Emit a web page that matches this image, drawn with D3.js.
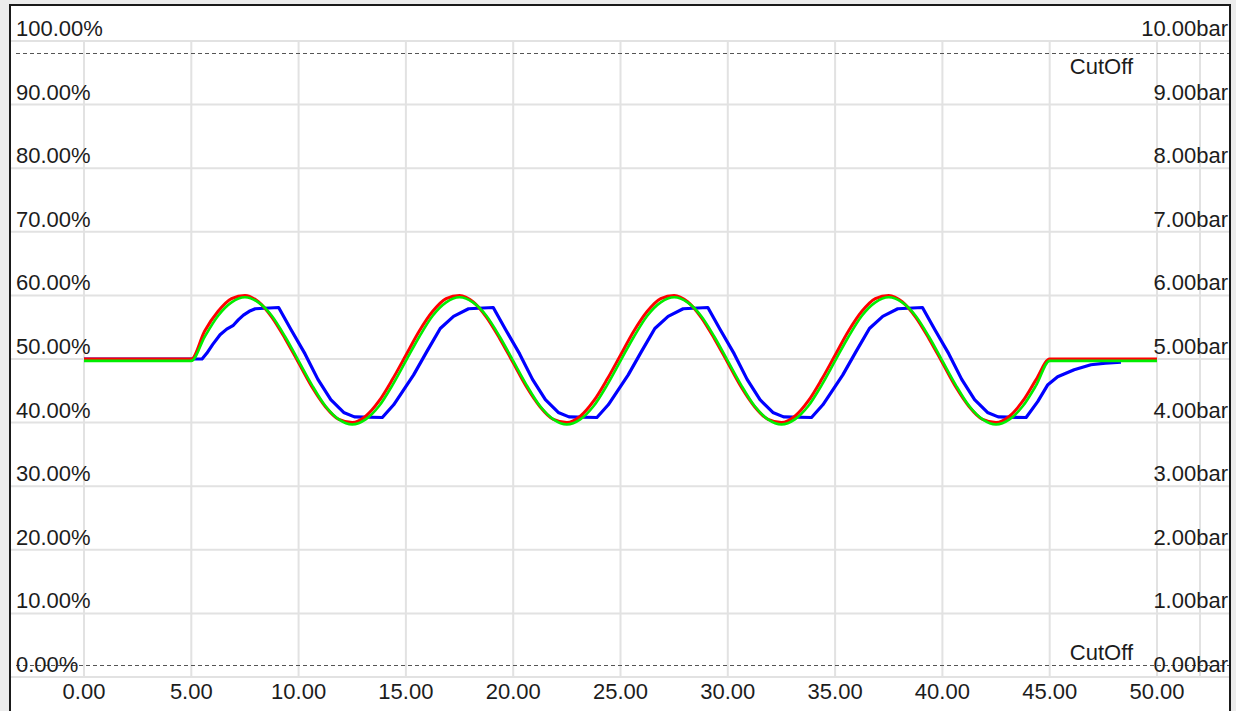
<!DOCTYPE html>
<html>
<head>
<meta charset="utf-8">
<script src="https://cdn.jsdelivr.net/npm/d3@7"></script>
<style>
  html, body { margin: 0; padding: 0; background: #ececec; }
  svg { display: block; }
  text { font-family: "Liberation Sans", Arial, sans-serif; font-size: 22px; fill: #1c1c1c; }
</style>
</head>
<body>
<svg id="chart" width="1236" height="711"></svg>
<script>
// ---- Data ----
const xTicks = [0, 5, 10, 15, 20, 25, 30, 35, 40, 45, 50];
const xTickLabels = ["0.00", "5.00", "10.00", "15.00", "20.00", "25.00", "30.00", "35.00", "40.00", "45.00", "50.00"];
const yTicks = [0, 10, 20, 30, 40, 50, 60, 70, 80, 90, 100];
const yLeftLabels = ["0.00%", "10.00%", "20.00%", "30.00%", "40.00%", "50.00%", "60.00%", "70.00%", "80.00%", "90.00%", "100.00%"];
const yRightLabels = ["0.00bar", "1.00bar", "2.00bar", "3.00bar", "4.00bar", "5.00bar", "6.00bar", "7.00bar", "8.00bar", "9.00bar", "10.00bar"];
const cutOffHigh = 98.1;
const cutOffLow = 1.9;
const cutOffLabel = "CutOff";

// time grid for the red / green series
const time = [0, 5, 5.625, 6.25, 6.875, 7.5, 8.125, 8.75, 9.375, 10, 10.625, 11.25, 11.875, 12.5, 13.125, 13.75, 14.375,
  15, 15.625, 16.25, 16.875, 17.5, 18.125, 18.75, 19.375, 20, 20.625, 21.25, 21.875, 22.5, 23.125, 23.75, 24.375,
  25, 25.625, 26.25, 26.875, 27.5, 28.125, 28.75, 29.375, 30, 30.625, 31.25, 31.875, 32.5, 33.125, 33.75, 34.375,
  35, 35.625, 36.25, 36.875, 37.5, 38.125, 38.75, 39.375, 40, 40.625, 41.25, 41.875, 42.5, 43.125, 43.75, 44.375,
  45, 50];

const redValues = [50.0, 50.0,
  54.4, 57.5, 59.5, 60.0, 59.0, 56.6, 53.2, 49.4, 45.6, 42.5, 40.5, 40.0, 41.0, 43.4, 46.8, 50.6,
  54.4, 57.5, 59.5, 60.0, 59.0, 56.6, 53.2, 49.4, 45.6, 42.5, 40.5, 40.0, 41.0, 43.4, 46.8, 50.6,
  54.4, 57.5, 59.5, 60.0, 59.0, 56.6, 53.2, 49.4, 45.6, 42.5, 40.5, 40.0, 41.0, 43.4, 46.8, 50.6,
  54.4, 57.5, 59.5, 60.0, 59.0, 56.6, 53.2, 49.4, 45.6, 42.5, 40.5, 40.0, 41.0, 43.4, 46.8, 50.0,
  50.0];

const greenValues = [49.7, 49.7,
  53.5, 56.8, 58.9, 59.7, 58.9, 56.8, 53.5, 49.7, 45.9, 42.6, 40.5, 39.7, 40.5, 42.6, 45.9, 49.7,
  53.5, 56.8, 58.9, 59.7, 58.9, 56.8, 53.5, 49.7, 45.9, 42.6, 40.5, 39.7, 40.5, 42.6, 45.9, 49.7,
  53.5, 56.8, 58.9, 59.7, 58.9, 56.8, 53.5, 49.7, 45.9, 42.6, 40.5, 39.7, 40.5, 42.6, 45.9, 49.7,
  53.5, 56.8, 58.9, 59.7, 58.9, 56.8, 53.5, 49.7, 45.9, 42.6, 40.5, 39.7, 40.5, 42.6, 45.9, 49.7,
  49.7];

const blueTime = [0, 5, 5.5, 5.72, 6.0, 6.34, 6.65, 6.96, 7.2, 7.43, 7.7, 7.98, 9.07, 9.65, 10.3, 10.9, 11.5, 12.1, 12.6, 13.9,
  14.43, 15.36, 15.98, 16.6, 17.22, 17.92, 19.07, 19.65, 20.3, 20.9, 21.5, 22.1, 22.6, 23.9,
  24.43, 25.36, 25.98, 26.6, 27.22, 27.92, 29.07, 29.65, 30.3, 30.9, 31.5, 32.1, 32.6, 33.9,
  34.43, 35.36, 35.98, 36.6, 37.22, 37.92, 39.07, 39.65, 40.3, 40.9, 41.5, 42.1, 42.6, 43.9,
  44.44, 44.9, 45.37, 46.14, 46.92, 47.6, 48.32];
const blueValues = [50.0, 50.0, 50.0, 50.9, 52.3, 53.8, 54.7, 55.3, 56.2, 56.9, 57.5, 57.9, 58.1, 54.6, 50.8, 46.8, 43.6, 41.6, 40.9, 40.8,
  42.8, 47.5, 51.2, 54.8, 56.7, 57.9, 58.1, 54.6, 50.8, 46.8, 43.6, 41.6, 40.9, 40.8,
  42.8, 47.5, 51.2, 54.8, 56.7, 57.9, 58.1, 54.6, 50.8, 46.8, 43.6, 41.6, 40.9, 40.8,
  42.8, 47.5, 51.2, 54.8, 56.7, 57.9, 58.1, 54.6, 50.8, 46.8, 43.6, 41.6, 40.9, 40.8,
  43.3, 45.9, 47.2, 48.3, 49.1, 49.35, 49.5];

// ---- Layout ----
const svg = d3.select("#chart");
const frame = { left: 10, top: 5, right: 1230, bottom: 720 };
const x = d3.scaleLinear().domain([0, 50]).range([84, 1157]);
const y = d3.scaleLinear().domain([0, 100]).range([677, 41]);
const plotRightEdge = 1200;

// white panel with border
svg.append("rect")
  .attr("x", frame.left).attr("y", frame.top)
  .attr("width", frame.right - frame.left).attr("height", frame.bottom - frame.top)
  .attr("fill", "#ffffff").attr("stroke", "#1a1a1a").attr("stroke-width", 2);

const grid = svg.append("g").attr("stroke", "#e2e2e2").attr("stroke-width", 2);
grid.selectAll("line.h").data(yTicks).join("line")
  .attr("x1", frame.left + 1).attr("x2", frame.right - 1)
  .attr("y1", d => y(d)).attr("y2", d => y(d));
grid.selectAll("line.v").data(xTicks).join("line")
  .attr("x1", d => x(d)).attr("x2", d => x(d))
  .attr("y1", y(100)).attr("y2", y(0));
grid.append("line")
  .attr("x1", plotRightEdge).attr("x2", plotRightEdge)
  .attr("y1", y(100)).attr("y2", y(0));

// cut-off dashed lines
svg.selectAll("line.cut").data([cutOffHigh, cutOffLow]).join("line")
  .attr("x1", 16).attr("x2", 1229)
  .attr("y1", d => Math.round(y(d)) + 0.5).attr("y2", d => Math.round(y(d)) + 0.5)
  .attr("stroke", "#555").attr("stroke-width", 1.2)
  .attr("stroke-dasharray", "4,3");

// Axis labels
svg.selectAll("text.yl").data(yTicks).join("text")
  .attr("x", 16).attr("y", d => y(d) - 5)
  .text((d, i) => yLeftLabels[i]);
svg.selectAll("text.yr").data(yTicks).join("text")
  .attr("x", 1228).attr("y", d => y(d) - 5)
  .attr("text-anchor", "end")
  .text((d, i) => yRightLabels[i]);
svg.selectAll("text.xl").data(xTicks).join("text")
  .attr("x", d => x(d)).attr("y", 699)
  .attr("text-anchor", "middle")
  .text((d, i) => xTickLabels[i]);

// CutOff labels
svg.append("text").attr("x", 1133).attr("y", y(cutOffHigh) + 21)
  .attr("text-anchor", "end").text(cutOffLabel);
svg.append("text").attr("x", 1133).attr("y", y(cutOffLow) - 5)
  .attr("text-anchor", "end").text(cutOffLabel);

// Series
const lineSmooth = d3.line().x(d => x(d[0])).y(d => y(d[1])).curve(d3.curveMonotoneX);
const lineLin = d3.line().x(d => x(d[0])).y(d => y(d[1]));

svg.append("path")
  .datum(blueTime.map((t, i) => [t, blueValues[i]]))
  .attr("d", lineLin).attr("fill", "none")
  .attr("stroke", "#0000ff").attr("stroke-width", 3.2).attr("stroke-linejoin", "round");

svg.append("path")
  .datum(time.map((t, i) => [t, redValues[i]]))
  .attr("d", lineSmooth).attr("fill", "none")
  .attr("stroke", "#ff0000").attr("stroke-width", 3).attr("stroke-linejoin", "round");

svg.append("path")
  .datum(time.map((t, i) => [t, greenValues[i]]))
  .attr("d", lineSmooth).attr("fill", "none")
  .attr("stroke", "#00ee00").attr("stroke-width", 2.6).attr("stroke-linejoin", "round");
</script>
</body>
</html>
